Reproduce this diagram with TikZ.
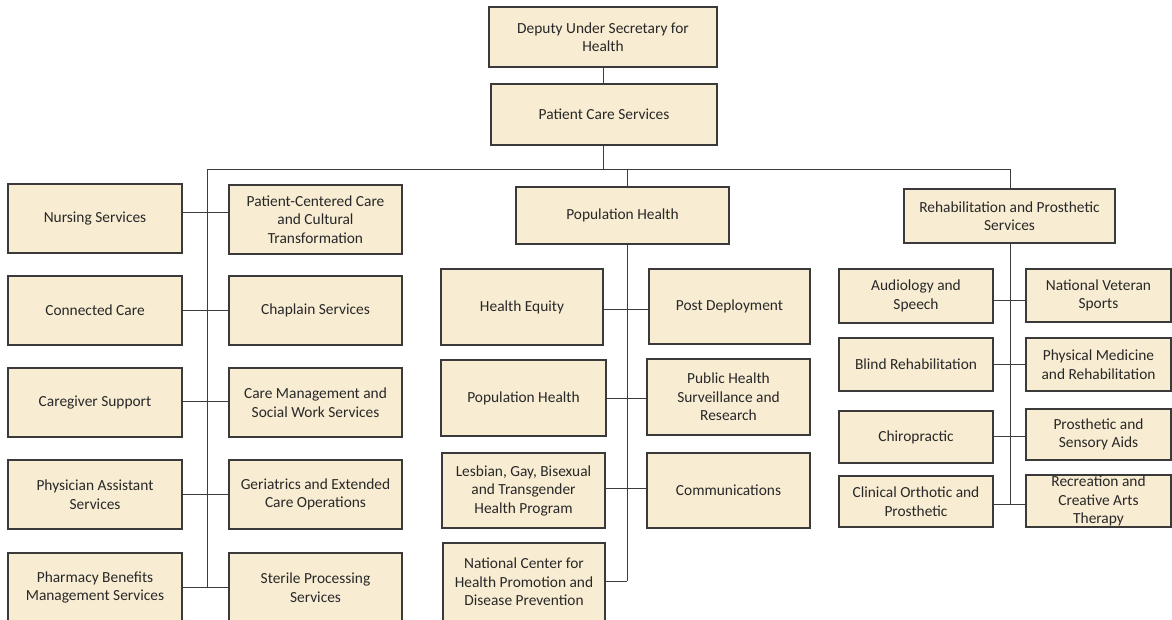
\documentclass[tikz,border=0pt]{standalone}
\usepackage{fontspec}
\setmainfont{Carlito}
\definecolor{boxfill}{RGB}{248,236,210}
\definecolor{boxline}{RGB}{58,58,58}
\definecolor{txt}{RGB}{40,40,40}
\definecolor{wire}{RGB}{60,60,60}
\begin{document}
\begin{tikzpicture}[x=1pt,y=-1pt,
  org/.style={draw=boxline, line width=1.1pt, fill=boxfill, inner sep=0pt,
    align=center, text=txt, font=\fontsize{15.4}{18.5}\selectfont},
  wirestyle/.style={draw=wire, line width=1pt}]
\clip (0,0) rectangle (1172,619);
\fill[white] (0,0) rectangle (1172,619);

% top
\node[org, minimum width=228pt, minimum height=60pt] (dus) at (603,37) {Deputy Under Secretary for\\Health};
\node[org, minimum width=226pt, minimum height=61pt] (pcs) at (604,114.5) {Patient Care Services};

% left block
\node[org, minimum width=174pt, minimum height=69pt] (nurs) at (95,218.5) {Nursing Services};
\node[org, minimum width=173pt, minimum height=69pt] (pcc) at (315.5,219.5) {Patient-Centered Care\\and Cultural\\Transformation};
\node[org, minimum width=174pt, minimum height=69pt] (conn) at (95,310.5) {Connected Care};
\node[org, minimum width=173pt, minimum height=69pt] (chap) at (315.5,310.5) {Chaplain Services};
\node[org, minimum width=174pt, minimum height=69pt] (care) at (95,402.5) {Caregiver Support};
\node[org, minimum width=173pt, minimum height=69pt] (cm) at (315.5,402.5) {Care Management and\\Social Work Services};
\node[org, minimum width=174pt, minimum height=69pt] (phys) at (95,494.5) {Physician Assistant\\Services};
\node[org, minimum width=173pt, minimum height=69pt] (ger) at (315.5,494.5) {Geriatrics and Extended\\Care Operations};
\node[org, minimum width=174pt, minimum height=69pt] (pharm) at (95,587.5) {Pharmacy Benefits\\Management Services};
\node[org, minimum width=173pt, minimum height=69pt] (ster) at (315.5,587.5) {Sterile Processing\\Services};

% middle block
\node[org, minimum width=213pt, minimum height=57pt] (pop) at (622.5,215.5) {Population Health};
\node[org, minimum width=162pt, minimum height=76pt] (he) at (522,307) {Health Equity};
\node[org, minimum width=161pt, minimum height=75pt] (pd) at (729.5,306.5) {Post Deployment};
\node[org, minimum width=165pt, minimum height=76pt] (pop2) at (523.5,398) {Population Health};
\node[org, minimum width=163pt, minimum height=76pt] (phsr) at (728.5,397) {Public Health\\Surveillance and\\Research};
\node[org, minimum width=163pt, minimum height=75pt] (lgbt) at (523.5,490.5) {Lesbian, Gay, Bisexual\\and Transgender\\Health Program};
\node[org, minimum width=163pt, minimum height=75pt] (comm) at (728.5,490.5) {Communications};
\node[org, minimum width=162pt, minimum height=78pt] (nc) at (524,582) {National Center for\\Health Promotion  and\\Disease Prevention};

% right block
\node[org, minimum width=211pt, minimum height=54pt] (rehab) at (1009.5,216) {Rehabilitation and Prosthetic\\Services};
\node[org, minimum width=154pt, minimum height=54pt] (aud) at (916,296) {Audiology and\\Speech};
\node[org, minimum width=145pt, minimum height=53pt] (nvs) at (1098.5,295.5) {National Veteran\\Sports};
\node[org, minimum width=154pt, minimum height=53pt] (blind) at (916,364.5) {Blind Rehabilitation};
\node[org, minimum width=145pt, minimum height=53pt] (pmr) at (1098.5,364.5) {Physical Medicine\\and Rehabilitation};
\node[org, minimum width=154pt, minimum height=52pt] (chiro) at (916,437) {Chiropractic};
\node[org, minimum width=145pt, minimum height=51pt] (psa) at (1098.5,434.5) {Prosthetic and\\Sensory Aids};
\node[org, minimum width=154pt, minimum height=51pt] (cop) at (916,501.5) {Clinical Orthotic and\\Prosthetic};
\node[org, minimum width=145pt, minimum height=52pt] (rcat) at (1098.5,501) {Recreation and\\Creative Arts\\Therapy};

% connectors
\coordinate (hl) at (207,169);
\coordinate (hr) at (1010,169);
\coordinate (mtop) at (627,169);
\coordinate (ttop) at (603,169);
\draw[wirestyle] (ttop |- dus.south) -- (ttop |- pcs.north);
\draw[wirestyle] (ttop |- pcs.south) -- (ttop);
\draw[wirestyle] (hl) -- (hr) -- (hr |- rehab.north);
\draw[wirestyle] (mtop) -- (mtop |- pop.north);

% left spine
\draw[wirestyle] (hl) -- (hl |- pharm.east);
\draw[wirestyle] ([yshift=6.5pt]nurs.east) -- ([yshift=6.5pt]nurs.east -| pcc.west);
\draw[wirestyle] (conn.east) -- (conn.east -| chap.west);
\draw[wirestyle] ([yshift=1pt]care.east) -- ([yshift=1pt]care.east -| cm.west);
\draw[wirestyle] (phys.east) -- (phys.east -| ger.west);
\draw[wirestyle] (pharm.east) -- (pharm.east -| ster.west);

% middle spine
\draw[wirestyle] (mtop |- pop.south) -- (mtop |- 0,581);
\draw[wirestyle] ([yshift=-2pt]he.east) -- ([yshift=-2pt]he.east -| pd.west);
\draw[wirestyle] (pop2.east) -- (pop2.east -| phsr.west);
\draw[wirestyle] ([yshift=2.5pt]lgbt.east) -- ([yshift=2.5pt]lgbt.east -| comm.west);
\draw[wirestyle] ([yshift=1pt]nc.east) -- ([yshift=1pt]nc.east -| mtop);

% right spine
\draw[wirestyle] (hr |- rehab.south) -- ([yshift=-2.5pt]hr |- cop.east);
\draw[wirestyle] ([yshift=-4pt]aud.east) -- ([yshift=-4pt]aud.east -| nvs.west);
\draw[wirestyle] (blind.east) -- (blind.east -| pmr.west);
\draw[wirestyle] ([yshift=1pt]chiro.east) -- ([yshift=1pt]chiro.east -| psa.west);
\draw[wirestyle] ([yshift=-2.5pt]cop.east) -- ([yshift=-2.5pt]cop.east -| rcat.west);
\end{tikzpicture}
\end{document}
